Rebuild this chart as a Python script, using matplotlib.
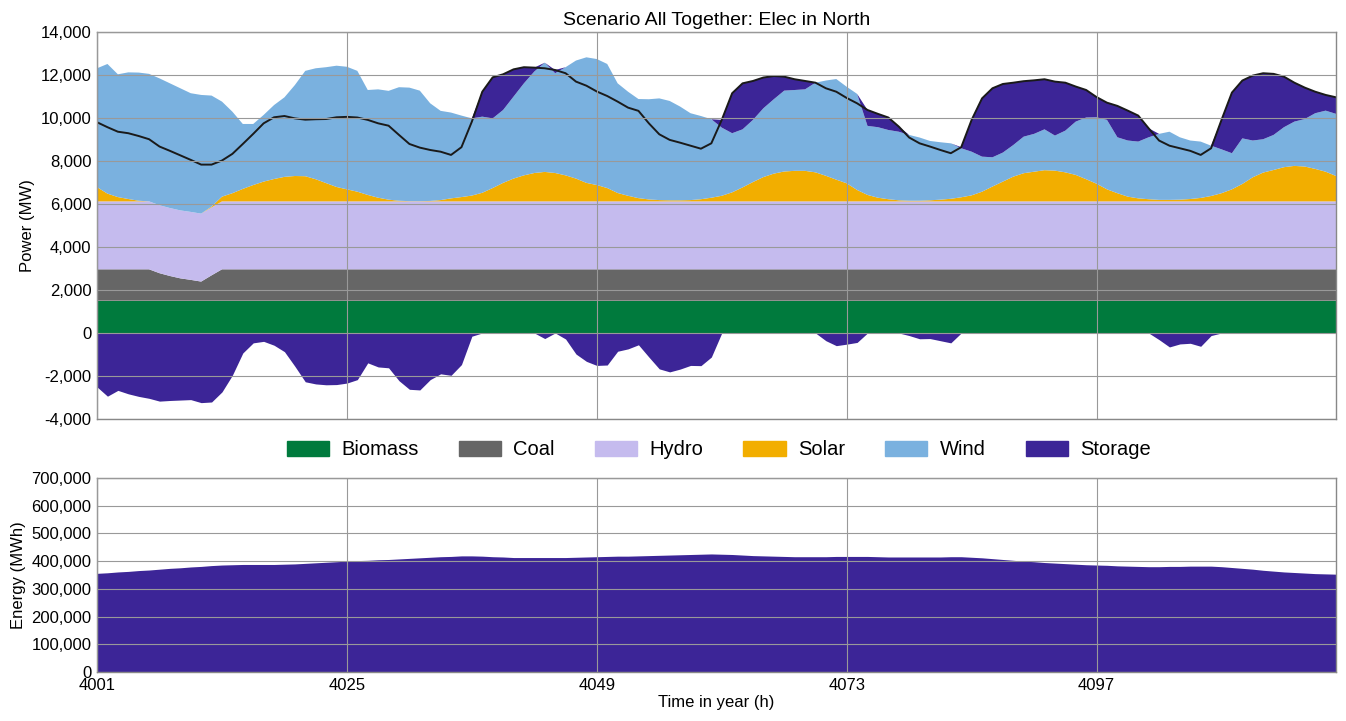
import matplotlib
matplotlib.use("Agg")
import matplotlib.pyplot as plt
import matplotlib.patches as mpatches
import matplotlib.ticker as mticker
import numpy as np

plt.rcParams['font.family'] = ['Liberation Sans', 'DejaVu Sans']

# hours shown
hours = np.arange(4001, 4121)

# generation by source (MW)
biomass = [1500] * 120
coal = [1460] * 6 + [1280, 1150, 1040, 970, 890, 1180] + [1460] * 108
hydro = [3160] * 120
solar = [660, 360, 200, 110, 30, 0, 0, 0, 0, 0, 0, 40, 220, 380, 580, 760, 920, 1040, 1140, 1180,
         1170, 1030, 850, 670, 560, 450, 300, 170, 80, 30, 10, 10, 20, 60, 140, 200, 270, 400, 620, 860,
         1060, 1210, 1320, 1370, 1320, 1210, 1060, 860, 760, 620, 390, 260, 150, 90, 60, 50, 50, 60, 100, 170,
         260, 420, 650, 900, 1130, 1290, 1390, 1420, 1420, 1350, 1190, 1010, 840, 530, 300, 170, 100, 50, 30, 30,
         50, 80, 120, 190, 280, 450, 690, 920, 1150, 1310, 1380, 1450, 1430, 1350, 1230, 1030, 820, 560, 380, 220,
         140, 100, 70, 70, 80, 110, 160, 250, 380, 560, 810, 1120, 1340, 1460, 1590, 1650, 1620, 1510, 1380, 1180]
wind = [5530, 6030, 5710, 5890, 5960, 5930, 5900, 5800, 5680, 5520, 5520, 5160, 4420, 3790, 3020, 2840, 3100, 3440, 3700, 4230,
        4900, 5160, 5390, 5640, 5700, 5620, 4880, 5040, 5060, 5280, 5280, 5140, 4540, 4150, 3990, 3790, 3590, 3540, 3240, 3390,
        3810, 4280, 4720, 5080, 4640, 5030, 5490, 5840, 5860, 5770, 5100, 4840, 4610, 4660, 4730, 4620, 4360, 4040, 3870, 3650,
        3170, 2750, 2700, 2890, 3200, 3460, 3760, 3760, 3790, 4170, 4430, 4680, 4490, 4470, 3210, 3280, 3220, 3190, 3060, 2940,
        2760, 2670, 2580, 2280, 2030, 1630, 1360, 1350, 1470, 1700, 1760, 1900, 1630, 1940, 2480, 2870, 3090, 3230, 2600, 2610,
        2640, 2880, 3070, 3170, 2900, 2720, 2620, 2340, 2040, 1680, 2120, 1710, 1550, 1630, 1860, 2060, 2210, 2590, 2840, 2890]
# storage power, positive = discharging (MW)
storage = [-2510, -2940, -2670, -2830, -2950, -3040, -3170, -3140, -3120, -3100, -3240, -3210, -2740, -1960, -930, -460, -390, -570, -870, -1550,
           -2270, -2370, -2410, -2400, -2330, -2170, -1390, -1580, -1620, -2220, -2620, -2650, -2170, -1900, -1970, -1470, -150, 1160, 1910, 1660,
           1270, 750, 180, -260, 150, -280, -980, -1320, -1510, -1490, -850, -740, -550, -1120, -1670, -1810, -1680, -1510, -1520, -1120,
           360, 1860, 2140, 1810, 1430, 1080, 650, 500, 390, 0, -360, -590, -520, -440, 740, 620, 580, 240, -120, -270,
           -260, -360, -460, 50, 1480, 2710, 3210, 3190, 2900, 2580, 2490, 2330, 2510, 2230, 1630, 1280, 940, 800, 1460, 1390,
           1210, 420, -310, -650, -510, -480, -620, -120, 1370, 2820, 2690, 3020, 3070, 2840, 2350, 1810, 1460, 1000, 730, 770]
demand = [9800, 9570, 9360, 9290, 9160, 9010, 8670, 8470, 8260, 8050, 7830, 7830, 8020, 8330, 8790, 9260, 9750, 10030, 10090, 9980,
          9920, 9940, 9950, 10030, 10050, 10020, 9910, 9750, 9640, 9210, 8790, 8620, 8510, 8430, 8280, 8640, 9830, 11220, 11890, 12030,
          12260, 12360, 12340, 12310, 12230, 12080, 11690, 11500, 11230, 11020, 10760, 10480, 10330, 9750, 9240, 8980, 8850, 8710, 8570, 8820,
          9910, 11150, 11610, 11720, 11880, 11950, 11920, 11800, 11720, 11640, 11380, 11220, 10930, 10680, 10370, 10190, 10020, 9600, 9090, 8820,
          8670, 8510, 8360, 8640, 9910, 10910, 11380, 11580, 11640, 11710, 11750, 11800, 11690, 11640, 11460, 11300, 10970, 10710, 10560, 10340,
          10110, 9520, 8950, 8710, 8590, 8470, 8280, 8590, 9910, 11180, 11740, 11970, 12080, 12050, 11920, 11640, 11410, 11220, 11070, 10960]
# stored energy (MWh)
energy = [356000, 358000, 361000, 363000, 366000, 368000, 371000, 374000, 376000, 379000, 381000, 384000, 386000, 387000, 388000,
          388000, 388000, 388000, 389000, 390000, 392000, 394000, 396000, 398000, 400000, 402000, 403000, 405000, 406000, 408000,
          410000, 412000, 414000, 416000, 417000, 419000, 419000, 418000, 416000, 415000, 413000, 413000, 413000, 413000, 413000,
          413000, 414000, 415000, 416000, 417000, 418000, 418000, 419000, 420000, 421000, 422000, 423000, 424000, 425000, 426000,
          425000, 424000, 422000, 420000, 419000, 418000, 417000, 416000, 416000, 416000, 416000, 417000, 417000, 417000, 417000,
          416000, 415000, 415000, 415000, 415000, 415000, 415000, 416000, 416000, 414000, 412000, 409000, 406000, 403000, 400000,
          398000, 395000, 393000, 391000, 389000, 387000, 386000, 385000, 383000, 382000, 381000, 380000, 380000, 381000, 381000,
          382000, 382000, 382000, 380000, 377000, 374000, 371000, 367000, 364000, 361000, 359000, 357000, 355000, 354000, 353000]

labels = ['Biomass', 'Coal', 'Hydro', 'Solar', 'Wind', 'Storage']
colors = ['#007A3D', '#666666', '#C5BBEE', '#F2AE00', '#7AB1DF', '#3C2597']

storage = np.array(storage)
st_pos = np.clip(storage, 0, None)
st_neg = np.clip(storage, None, 0)

fig = plt.figure(figsize=(13.46, 7.21), dpi=100)
ax1 = fig.add_axes([0.0721, 0.4189, 0.9205, 0.5368])
ax2 = fig.add_axes([0.0721, 0.068, 0.9205, 0.269])

ax1.stackplot(hours, biomass, coal, hydro, solar, wind, st_pos, colors=colors, linewidth=0)
ax1.fill_between(hours, 0, st_neg, color=colors[5], linewidth=0)
ax1.plot(hours, demand, color='#1a1a1a', lw=1.4)

ax2.fill_between(hours, 0, energy, color=colors[5], linewidth=0)

fmt = mticker.FuncFormatter(lambda v, p: '{:,.0f}'.format(v))
for ax in (ax1, ax2):
    ax.set_xlim(4001, 4120)
    ax.set_xticks([4001, 4025, 4049, 4073, 4097])
    ax.grid(True, color='#999999', lw=0.8)
    ax.set_axisbelow(False)
    ax.yaxis.set_major_formatter(fmt)
    ax.tick_params(length=0, labelsize=12, pad=4)
    for s in ax.spines.values():
        s.set_color('#888888')
        s.set_linewidth(1.0)

ax1.set_ylim(-4000, 14000)
ax1.set_yticks(np.arange(-4000, 14001, 2000))
ax1.set_xticklabels([])
ax1.set_ylabel('Power (MW)', fontsize=12)
ax1.set_title('Scenario All Together: Elec in North', fontsize=14, pad=5)

ax2.set_ylim(0, 700000)
ax2.set_yticks(np.arange(0, 700001, 100000))
ax2.set_ylabel('Energy (MWh)', fontsize=12)
ax2.set_xlabel('Time in year (h)', fontsize=12, labelpad=2)

handles = [mpatches.Patch(color=c, label=l) for c, l in zip(colors, labels)]
fig.legend(handles=handles, loc='center', bbox_to_anchor=(0.534, 0.376), ncol=6, frameon=False,
           fontsize=14.5, handlelength=2.1, handleheight=0.8, handletextpad=0.6, columnspacing=2.0)

fig.savefig('out.png', dpi=100)
